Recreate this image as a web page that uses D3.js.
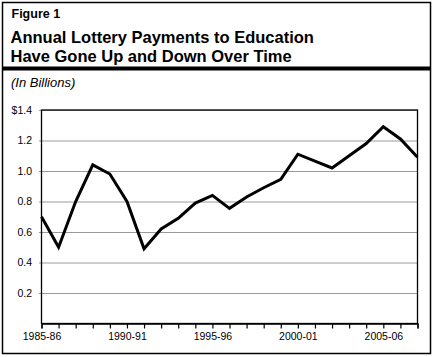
<!DOCTYPE html>
<html>
<head>
<meta charset="utf-8">
<script src="https://cdn.jsdelivr.net/npm/d3@7"></script>
<style>
  body { margin: 0; background: #fff; }
  svg { display: block; }
</style>
</head>
<body>
<div id="chart"></div>
<script>
// fiscal years, 1985-86 through 2007-08
var years = ["1985-86","1986-87","1987-88","1988-89","1989-90","1990-91","1991-92",
  "1992-93","1993-94","1994-95","1995-96","1996-97","1997-98","1998-99","1999-00",
  "2000-01","2001-02","2002-03","2003-04","2004-05","2005-06","2006-07","2007-08"];
// lottery payments to education, billions
var payments = [0.70, 0.50, 0.80, 1.04, 0.98, 0.80, 0.49, 0.62, 0.69, 0.79, 0.84, 0.755,
  0.83, 0.89, 0.945, 1.11, 1.065, 1.02, 1.10, 1.18, 1.29, 1.21, 1.09];
var yearLabels = ["1985-86","1990-91","1995-96","2000-01","2005-06"];
var yTicks = [0.2, 0.4, 0.6, 0.8, 1.0, 1.2, 1.4];

var W = 434, H = 357;
var plot = {left: 41.5, right: 417.5, top: 110, bottom: 323.5};
var font = "'Liberation Sans', Arial, sans-serif";

var svg = d3.select("#chart").append("svg")
    .attr("width", W)
    .attr("height", H);

// outer frame
svg.append("rect")
    .attr("x", 2.5)
    .attr("y", 2.5)
    .attr("width", 428)
    .attr("height", 351)
    .attr("fill", "none")
    .attr("stroke", "#000")
    .attr("stroke-width", 1.5);

svg.append("text")
    .text("Figure 1")
    .attr("x", 11.5)
    .attr("y", 18)
    .attr("font-family", font)
    .attr("font-weight", "bold")
    .attr("font-size", 12.5);
svg.append("text")
    .text("Annual Lottery Payments to Education")
    .attr("x", 10.5)
    .attr("y", 43)
    .attr("font-family", font)
    .attr("font-weight", "bold")
    .attr("font-size", 16.5);
svg.append("text")
    .text("Have Gone Up and Down Over Time")
    .attr("x", 10.5)
    .attr("y", 61.5)
    .attr("font-family", font)
    .attr("font-weight", "bold")
    .attr("font-size", 16.5);

// heavy rule under the title
svg.append("rect")
    .attr("x", 2)
    .attr("y", 66.5)
    .attr("width", 429)
    .attr("height", 4)
    .attr("fill", "#000");

svg.append("text")
    .text("(In Billions)")
    .attr("x", 11)
    .attr("y", 87)
    .attr("font-family", font)
    .attr("font-style", "italic")
    .attr("font-size", 13);

var x = d3.scalePoint()
    .domain(years)
    .range([plot.left, plot.right]);
var y = d3.scaleLinear()
    .domain([0, 1.4])
    .range([plot.bottom, plot.top]);

// gridlines + y labels
var yAxis = svg.append("g")
    .attr("transform", "translate(" + plot.left + ",0)")
    .call(d3.axisLeft(y)
        .tickValues(yTicks)
        .tickSize(-(plot.right - plot.left))
        .tickPadding(9.5)
        .tickFormat(function(d) { return d == 1.4 ? "$1.4" : d3.format(".1f")(d); }));
yAxis.select(".domain").remove();
yAxis.selectAll(".tick line")
    .attr("x1", -2.5)
    .attr("stroke", "#9a9a9a")
    .attr("stroke-width", 1);
yAxis.selectAll(".tick text")
    .attr("font-family", font)
    .attr("font-size", 10.5)
    .attr("fill", "#000");

// plot box
svg.append("rect")
    .attr("x", plot.left)
    .attr("y", plot.top)
    .attr("width", plot.right - plot.left)
    .attr("height", plot.bottom - plot.top)
    .attr("fill", "none")
    .attr("stroke", "#000")
    .attr("stroke-width", 1.3);

// x axis
var xAxis = svg.append("g")
    .attr("transform", "translate(0," + plot.bottom + ")")
    .call(d3.axisBottom(x)
        .tickSize(5)
        .tickPadding(4)
        .tickFormat(function(d) { return yearLabels.indexOf(d) >= 0 ? d : ""; }));
xAxis.select(".domain")
    .attr("stroke", "#000")
    .attr("stroke-width", 1.3);
xAxis.selectAll(".tick line")
    .attr("stroke", "#000")
    .attr("stroke-width", 1.2);
xAxis.selectAll(".tick text")
    .attr("font-family", font)
    .attr("font-size", 10.5)
    .attr("fill", "#000");

var line = d3.line()
    .x(function(d, i) { return x(years[i]); })
    .y(function(d) { return y(d); });

svg.append("path")
    .datum(payments)
    .attr("d", line)
    .attr("fill", "none")
    .attr("stroke", "#000")
    .attr("stroke-width", 3)
    .attr("stroke-linejoin", "miter");
</script>
</body>
</html>
